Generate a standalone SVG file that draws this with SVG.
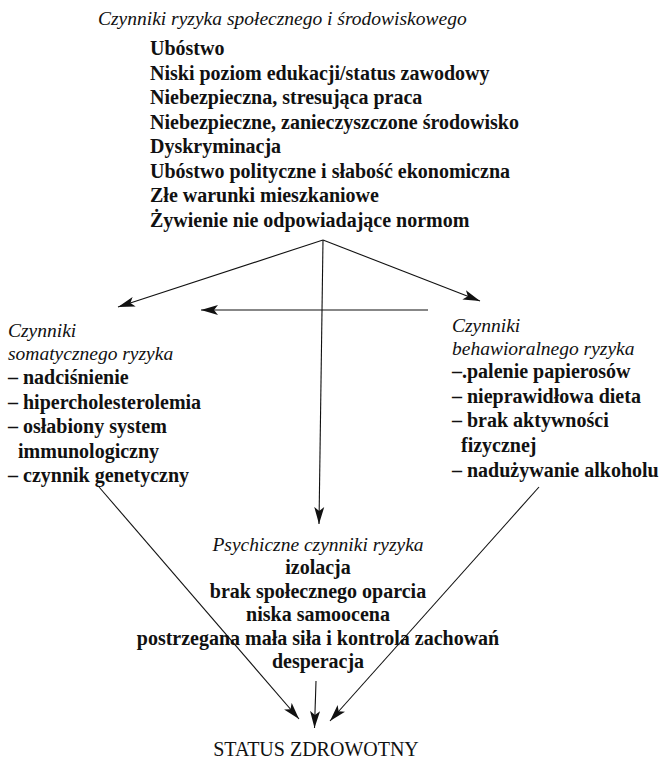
<svg xmlns="http://www.w3.org/2000/svg" width="659" height="762" viewBox="0 0 659 762">
<style>
  text { font-family: "Liberation Serif", "Times New Roman", serif; fill: #111; }
  .hi { font-style: italic; font-size: 19.5px; }
  .b { font-weight: bold; font-size: 20px; }
  .r { font-size: 20px; }
  .mid { text-anchor: middle; }
  .ln { stroke: #111; stroke-width: 1.1; fill: none; }
</style>
<defs>
  <marker id="ah" markerUnits="userSpaceOnUse" markerWidth="18" markerHeight="11" refX="17" refY="5.5" orient="auto">
    <path d="M0,0.5 L17,5.5 L0,10.5 L4,5.5 z" fill="#111"/>
  </marker>
</defs>
<rect width="659" height="762" fill="#fff"/>

<g id="social">
  <text class="hi" x="98" y="25">Czynniki ryzyka społecznego i środowiskowego</text>
  <text class="b" x="150" y="55">Ubóstwo</text>
  <text class="b" x="150" y="79.5">Niski poziom edukacji/status zawodowy</text>
  <text class="b" x="150" y="104">Niebezpieczna, stresująca praca</text>
  <text class="b" x="150" y="128.5">Niebezpieczne, zanieczyszczone środowisko</text>
  <text class="b" x="150" y="153">Dyskryminacja</text>
  <text class="b" x="150" y="177.5">Ubóstwo polityczne i słabość ekonomiczna</text>
  <text class="b" x="150" y="202">Złe warunki mieszkaniowe</text>
  <text class="b" x="150" y="226.5">Żywienie nie odpowiadające normom</text>
</g>

<g id="somatic">
  <text class="hi" x="8" y="337">Czynniki</text>
  <text class="hi" x="8" y="360">somatycznego ryzyka</text>
  <text class="b" x="8" y="384">– nadciśnienie</text>
  <text class="b" x="8" y="409">– hipercholesterolemia</text>
  <text class="b" x="8" y="433">– osłabiony system</text>
  <text class="b" x="18" y="458">immunologiczny</text>
  <text class="b" x="8" y="482">– czynnik genetyczny</text>
</g>

<g id="behavioral">
  <text class="hi" x="452" y="332">Czynniki</text>
  <text class="hi" x="452" y="355">behawioralnego ryzyka</text>
  <text class="b" x="452" y="378">–.palenie papierosów</text>
  <text class="b" x="452" y="403">– nieprawidłowa dieta</text>
  <text class="b" x="452" y="427">– brak aktywności</text>
  <text class="b" x="461" y="452">fizycznej</text>
  <text class="b" x="452" y="477">– nadużywanie alkoholu</text>
</g>

<g id="psychic">
  <text class="hi mid" x="318" y="551">Psychiczne czynniki ryzyka</text>
  <text class="b mid" x="318" y="574">izolacja</text>
  <text class="b mid" x="318" y="598">brak społecznego oparcia</text>
  <text class="b mid" x="318" y="621">niska samoocena</text>
  <text class="b mid" x="318" y="645">postrzegana mała siła i kontrola zachowań</text>
  <text class="b mid" x="318" y="668">desperacja</text>
</g>

<g id="status">
  <text class="r mid" x="316" y="756">STATUS ZDROWOTNY</text>
</g>

<g id="connectors">
  <path class="ln" d="M323,240 L118,307" marker-end="url(#ah)"/>
  <path class="ln" d="M323,240 L480,301" marker-end="url(#ah)"/>
  <path class="ln" d="M428,310 L201,310" marker-end="url(#ah)"/>
  <path class="ln" d="M323,240 L319,524" marker-end="url(#ah)"/>
  <path class="ln" d="M99,487 L299,719" marker-end="url(#ah)"/>
  <path class="ln" d="M539,487 L330,721" marker-end="url(#ah)"/>
  <path class="ln" d="M316,681 L314.5,728" marker-end="url(#ah)"/>
</g>
</svg>
